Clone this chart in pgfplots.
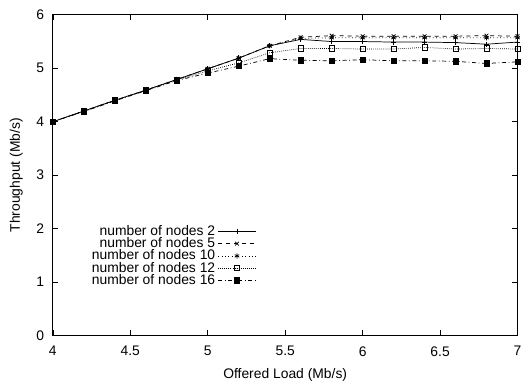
\documentclass[border={4pt 2pt 0pt 4pt}]{standalone}
\usepackage{fontspec}
\setmainfont{Liberation Sans}
\usepackage{pgfplots}
\pgfplotsset{compat=1.18}
\begin{document}
\fontsize{10.5}{12.5}\selectfont
\begin{tikzpicture}
\begin{axis}[
  scale only axis,
  width=352pt, height=243pt,
  xmin=4, xmax=7, ymin=0, ymax=6,
  xtick={4,4.5,5,5.5,6,6.5,7},
  ytick={0,1,2,3,4,5,6},
  /pgf/number format/assume math mode=true,
  tick label style={font=\fontsize{10.5}{12.5}\selectfont},
  xticklabel style={yshift=-4.5pt},
  yticklabel style={xshift=-3pt},
  label style={font=\fontsize{10.5}{12.5}\selectfont},
  xlabel={Offered Load (Mb/s)},
  ylabel={Throughput (Mb/s)},
  xlabel style={yshift=-2pt},
  ylabel style={yshift=3pt},
  tick align=inside,
  major tick length=4pt,
  axis line style={line width=0.6pt},
  every tick/.style={line width=0.5pt,black},
  legend plot pos=right,
  legend cell align=right,
  legend image code/.code={\draw[mark repeat=2,mark phase=2] plot coordinates {(0cm,0cm)(0.5cm,0cm)(1cm,0cm)};},
  legend style={draw=none, fill=none, at={(0.075,0.14)}, anchor=south west,
    font=\fontsize{10.5}{12.5}\selectfont, row sep=-3.9pt, inner sep=1pt},
  every axis plot/.append style={line width=0.55pt, black, mark size=2pt},
]
\addplot[solid, mark=+, mark options={solid}] coordinates {
(4.0,4.00) (4.2,4.20) (4.4,4.40) (4.6,4.59) (4.8,4.79) (5.0,4.99) (5.2,5.19) (5.4,5.42)
(5.6,5.54) (5.8,5.50) (6.0,5.50) (6.2,5.49) (6.4,5.49) (6.6,5.48) (6.8,5.45) (7.0,5.49)};
\addlegendentry{number of nodes 2}
\addplot[dashed, mark=x, mark options={solid}] coordinates {
(4.0,4.00) (4.2,4.20) (4.4,4.40) (4.6,4.59) (4.8,4.79) (5.0,4.99) (5.2,5.19) (5.4,5.42)
(5.6,5.58) (5.8,5.61) (6.0,5.60) (6.2,5.60) (6.4,5.60) (6.6,5.60) (6.8,5.61) (7.0,5.60)};
\addlegendentry{number of nodes 5}
\addplot[dotted, mark=asterisk, mark options={solid}] coordinates {
(4.0,4.00) (4.2,4.20) (4.4,4.40) (4.6,4.59) (4.8,4.79) (5.0,4.99) (5.2,5.19) (5.4,5.42)
(5.6,5.56) (5.8,5.57) (6.0,5.57) (6.2,5.57) (6.4,5.57) (6.6,5.57) (6.8,5.57) (7.0,5.57)};
\addlegendentry{number of nodes 10}
\addplot[densely dotted, mark=square, mark options={solid}] coordinates {
(4.0,4.00) (4.2,4.20) (4.4,4.40) (4.6,4.59) (4.8,4.78) (5.0,4.95) (5.2,5.10) (5.4,5.29)
(5.6,5.37) (5.8,5.37) (6.0,5.36) (6.2,5.36) (6.4,5.39) (6.6,5.36) (6.8,5.37) (7.0,5.36)};
\addlegendentry{number of nodes 12}
\addplot[dash dot, mark=square*, mark options={solid}] coordinates {
(4.0,4.00) (4.2,4.19) (4.4,4.39) (4.6,4.58) (4.8,4.77) (5.0,4.91) (5.2,5.04) (5.4,5.18)
(5.6,5.15) (5.8,5.14) (6.0,5.16) (6.2,5.14) (6.4,5.14) (6.6,5.13) (6.8,5.09) (7.0,5.12)};
\addlegendentry{number of nodes 16}
\end{axis}
\end{tikzpicture}
\end{document}
